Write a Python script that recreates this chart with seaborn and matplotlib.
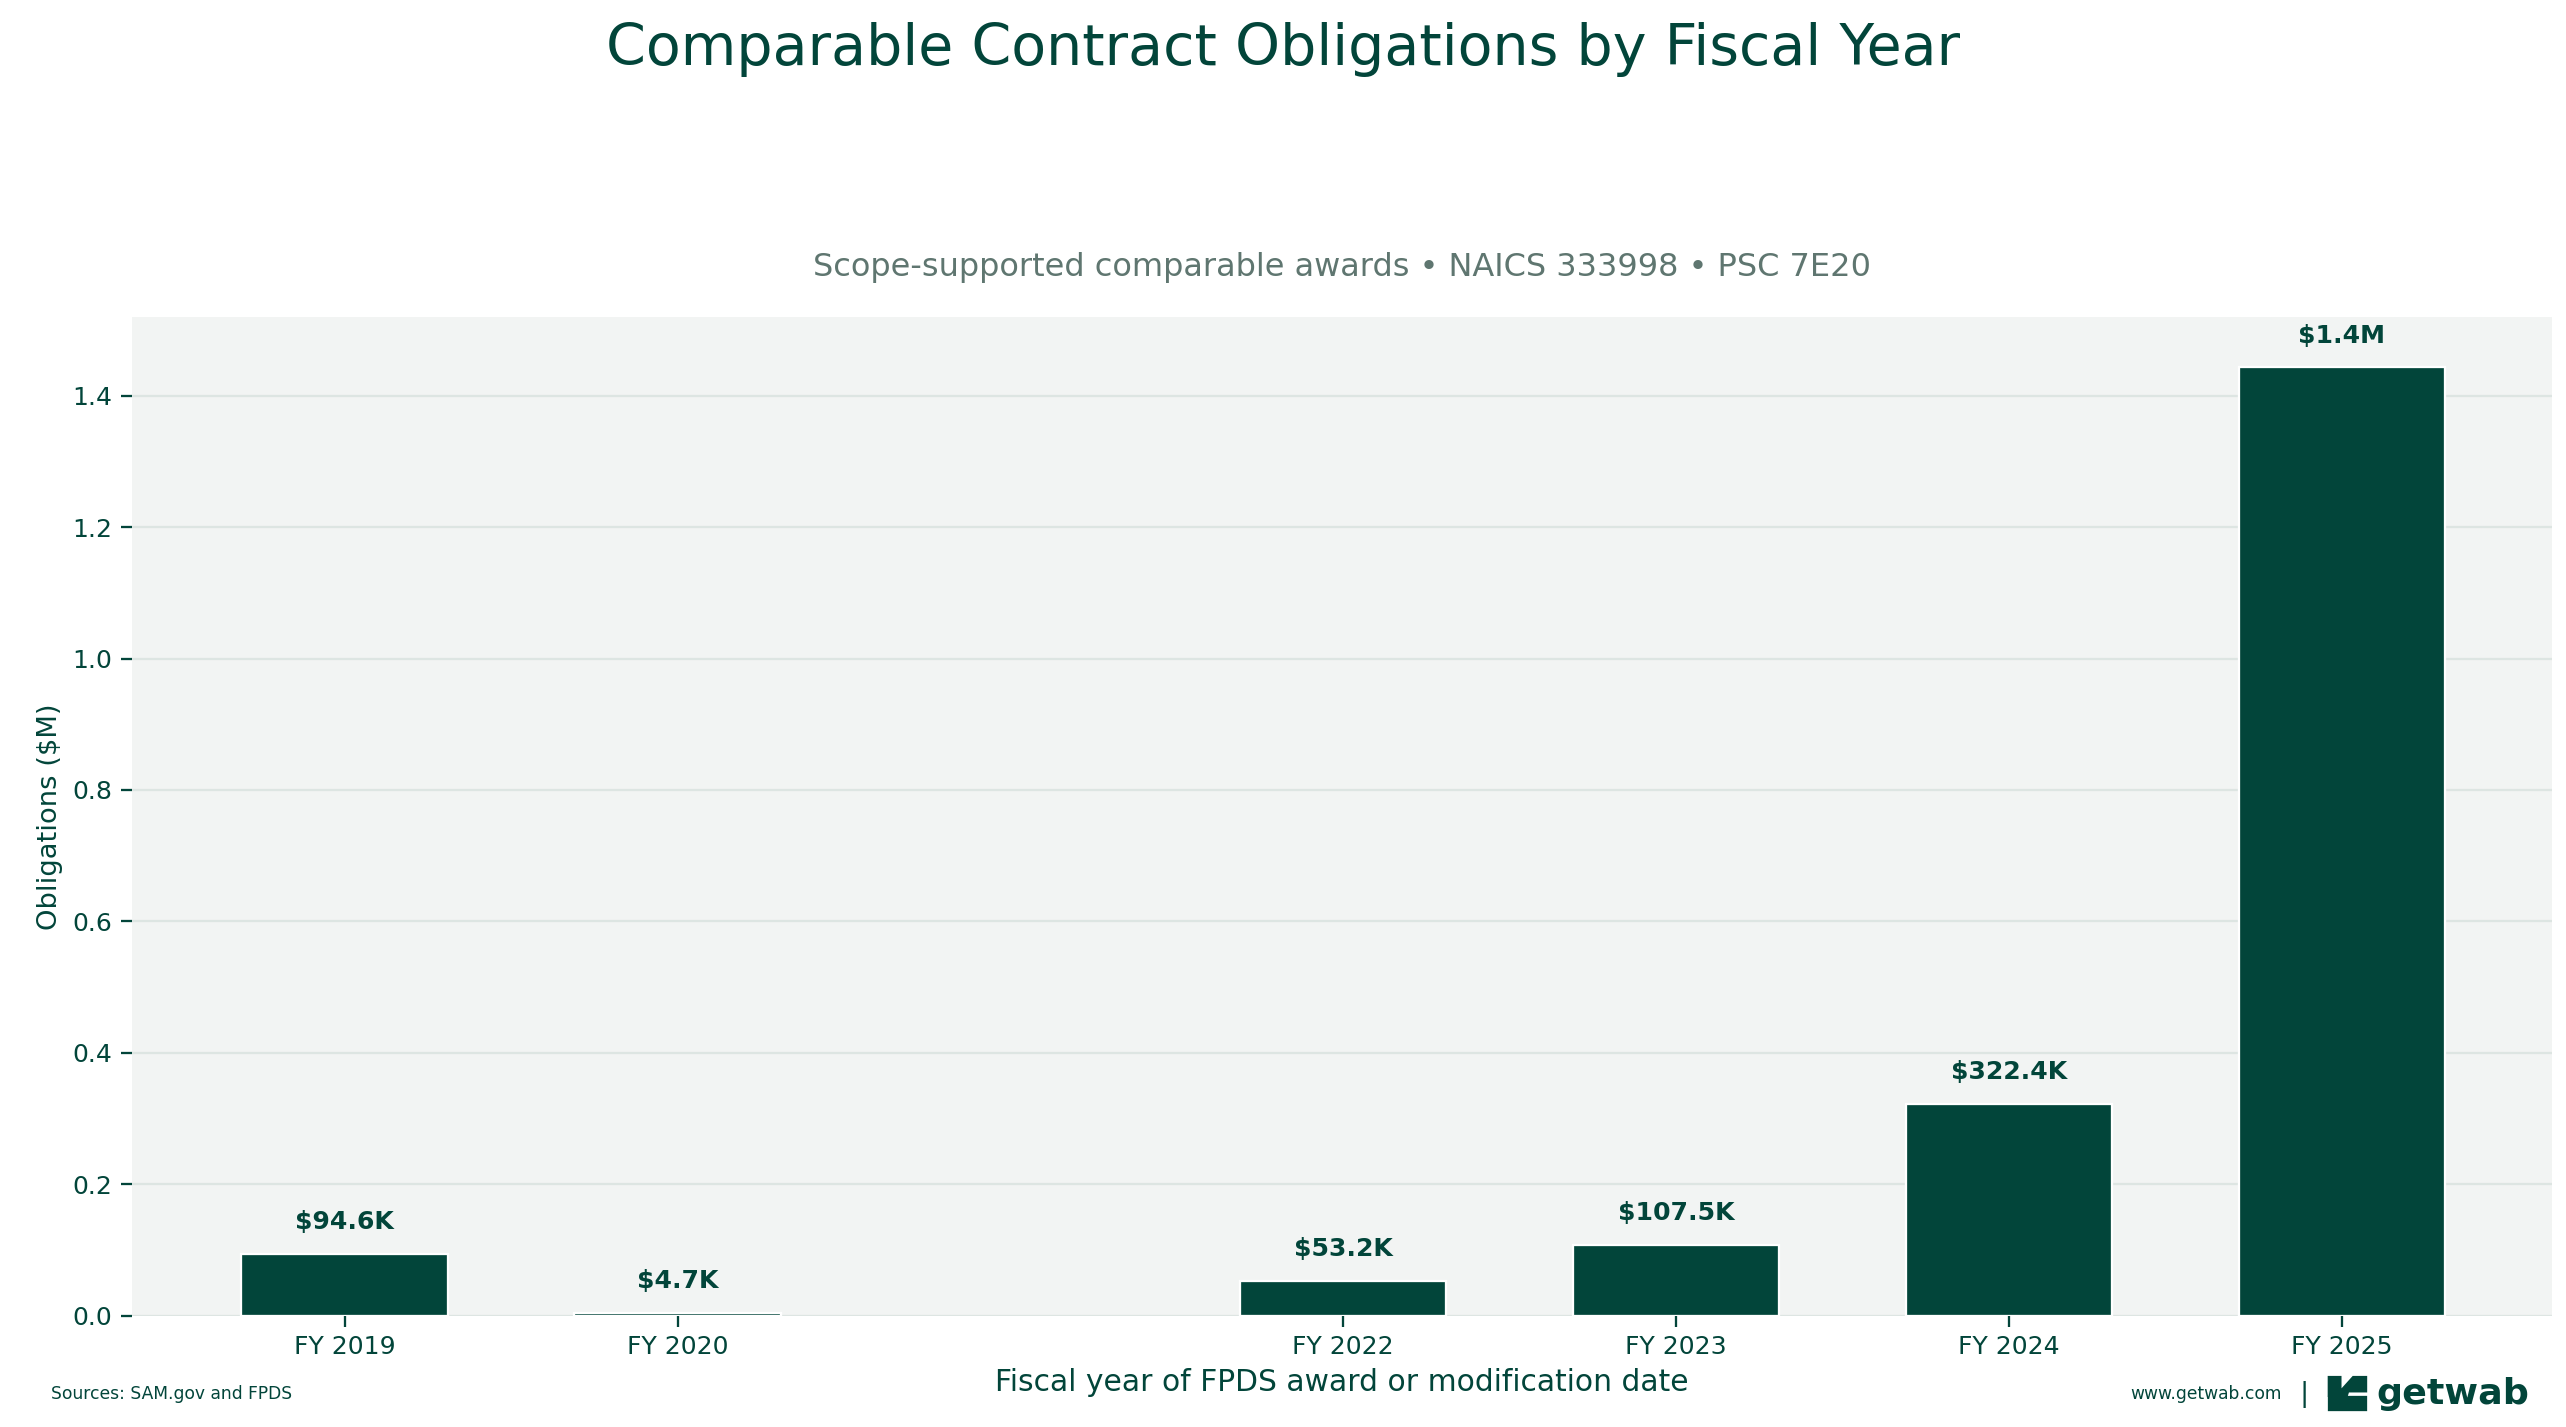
import numpy as np
import pandas as pd
import seaborn as sns
import matplotlib.pyplot as plt
from matplotlib.patches import Polygon, Rectangle

years = ['FY 2019', 'FY 2020', 'FY 2021', 'FY 2022', 'FY 2023', 'FY 2024', 'FY 2025']
obligations = [0.0946, 0.0047, np.nan, 0.0532, 0.1075, 0.3224, 1.443]
labels = ['$94.6K', '$4.7K', '', '$53.2K', '$107.5K', '$322.4K', '$1.4M']

green = '#02453a'
df = pd.DataFrame({'year': years, 'value': obligations})

sns.set_theme(style='white')
plt.rcParams['font.family'] = ['DejaVu Sans']

fig = plt.figure(figsize=(15.6, 8.675), dpi=164.5)
ax = fig.add_axes([0.0513, 0.078, 0.943, 0.700])
ax.set_facecolor('#f2f4f3')
sns.barplot(data=df, x='year', y='value', order=years, color=green,
            saturation=1, width=0.62, ax=ax)

for i, (v, lab) in enumerate(zip(obligations, labels)):
    if lab:
        ax.text(i, v + 0.03, lab, ha='center', va='bottom', fontsize=11,
                fontweight='bold', color=green)

ticks = [i for i, v in enumerate(obligations) if not np.isnan(v)]
ax.set_xticks(ticks)
ax.set_xticklabels([years[i] for i in ticks])
ax.set_xlim(-0.64, 6.63)
ax.set_ylim(0, 1.52)
ax.set_yticks(np.arange(0, 1.41, 0.2))
ax.yaxis.grid(True, color='#dde5e2', linewidth=1)
ax.set_axisbelow(True)
for s in ax.spines.values():
    s.set_visible(False)
ax.tick_params(axis='both', colors=green, labelsize=11, length=5, width=1,
               bottom=True, left=True, labelcolor=green)
ax.set_xlabel('Fiscal year of FPDS award or modification date', fontsize=13, color=green)
ax.set_ylabel('Obligations ($M)', fontsize=12, color=green)
ax.set_title('Scope-supported comparable awards • NAICS 333998 • PSC 7E20',
             fontsize=14, color='#5f7670', pad=18)

fig.text(0.5, 0.965, 'Comparable Contract Obligations by Fiscal Year', ha='center',
         va='center', fontsize=25, color=green)
fig.text(0.02, 0.023, 'Sources: SAM.gov and FPDS', fontsize=7.5, color=green, va='center')
fig.text(0.889, 0.023, 'www.getwab.com', fontsize=7.5, color=green, va='center', ha='right')
fig.text(0.898, 0.023, '|', fontsize=12, color=green, va='center', ha='center')
fig.patches.append(Rectangle((0.9075, 0.012), 0.0145, 0.009, transform=fig.transFigure,
                             color=green))
fig.patches.append(Polygon([(0.9075, 0.035), (0.912, 0.035), (0.912, 0.025), (0.917, 0.035),
                            (0.922, 0.035), (0.922, 0.025), (0.915, 0.025), (0.9145, 0.022),
                            (0.9075, 0.022)],
                           closed=True, transform=fig.transFigure, color=green))
fig.text(0.926, 0.023, 'getwab', fontsize=16, color=green, va='center', ha='left',
         fontweight='bold')

fig.savefig('out.png', dpi=164.5)
